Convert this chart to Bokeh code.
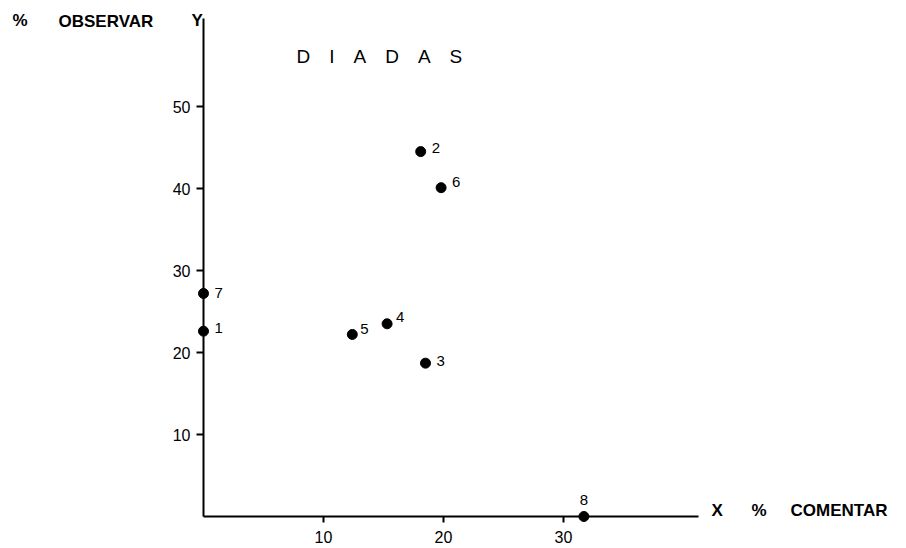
from bokeh.plotting import figure
from bokeh.models import ColumnDataSource, FixedTicker, Label, Range1d, LinearAxis
from bokeh.core.properties import value
from bokeh.embed import file_html
from bokeh.resources import INLINE

# ---------------- data ----------------
dyad_ids = ["1", "2", "3", "4", "5", "6", "7", "8"]
pct_comentar = [0.0, 18.1, 18.5, 15.3, 12.4, 19.8, 0.0, 31.7]   # X: % comentar
pct_observar = [22.6, 44.5, 18.7, 23.5, 22.2, 40.1, 27.2, 0.0]  # Y: % observar
x_ticks = [10, 20, 30]
y_ticks = [10, 20, 30, 40, 50]
title_text = "D\u2003I\u2003A\u2003D\u2003A\u2003S"

# label offsets (screen px) for the dyad numbers
label_dx = [11, 11, 11, 9, 8, 11, 11, 0]
label_dy = [-3, -4, -2, -7, -5, -6, 0, -17]
label_align = ["left"] * 7 + ["center"]

# ---------------- layout ----------------
W, H = 900, 545
PX_X = 12.0   # px per x unit
PX_Y = 8.2    # px per y unit
ORIG_X, ORIG_Y = 203, 516   # canvas position of the origin
AXIS_X_END = 41.25
AXIS_Y_END = 60.7
FONT = "Liberation Sans"

x_start = -ORIG_X / PX_X
y_end = ORIG_Y / PX_Y
p = figure(width=W, height=H, output_backend="svg", toolbar_location=None,
           x_range=Range1d(x_start, x_start + W / PX_X),
           y_range=Range1d(y_end - H / PX_Y, y_end),
           x_axis_location=None, y_axis_location=None,
           min_border_left=0, min_border_right=0,
           min_border_top=0, min_border_bottom=0)
p.grid.visible = False
p.outline_line_color = None
p.background_fill_color = "white"
p.border_fill_color = "white"

xaxis = LinearAxis(fixed_location=0, bounds=(0, AXIS_X_END),
                   ticker=FixedTicker(ticks=x_ticks))
yaxis = LinearAxis(fixed_location=0, bounds=(0, AXIS_Y_END),
                   ticker=FixedTicker(ticks=y_ticks))
for ax in (xaxis, yaxis):
    ax.axis_line_color = "black"
    ax.axis_line_width = 2
    ax.major_tick_in = 0
    ax.major_tick_out = 7
    ax.minor_tick_line_color = None
    ax.major_tick_line_width = 2
    ax.major_tick_line_color = "black"
    ax.major_label_text_font = FONT
    ax.major_label_text_font_size = "16px"
    ax.major_label_text_color = "black"
xaxis.major_tick_out = 6
xaxis.major_label_standoff = 8
yaxis.major_label_standoff = 6
p.add_layout(xaxis, "below")
p.add_layout(yaxis, "left")

src = ColumnDataSource(dict(x=pct_comentar, y=pct_observar, lab=dyad_ids,
                            dx=label_dx, dy=label_dy, al=label_align))
p.scatter("x", "y", source=src, size=10, color="black")
p.text("x", "y", text="lab", source=src, x_offset="dx", y_offset="dy",
       text_align="al", text_baseline="middle",
       text_font=value(FONT), text_font_size="15px", text_color="black")

def px2x(X):
    return (X - ORIG_X) / PX_X

def px2y(Y):
    return (ORIG_Y - Y) / PX_Y

def add_label(text, X, Y, size, style="bold"):
    p.add_layout(Label(x=px2x(X), y=px2y(Y), text=text, text_font=FONT,
                       text_font_size=size, text_font_style=style,
                       text_color="black", text_baseline="middle",
                       text_align="left"))

add_label("%", 12, 20, "17px")
add_label("OBSERVAR", 58, 21, "17px")
add_label("Y", 191, 20, "17px")
add_label(title_text, 296, 56, "19px", style="normal")
add_label("X", 711, 510, "17px")
add_label("%", 751, 510, "17px")
add_label("COMENTAR", 790, 510, "17px")

open("out.html", "w").write(file_html(p, INLINE))
